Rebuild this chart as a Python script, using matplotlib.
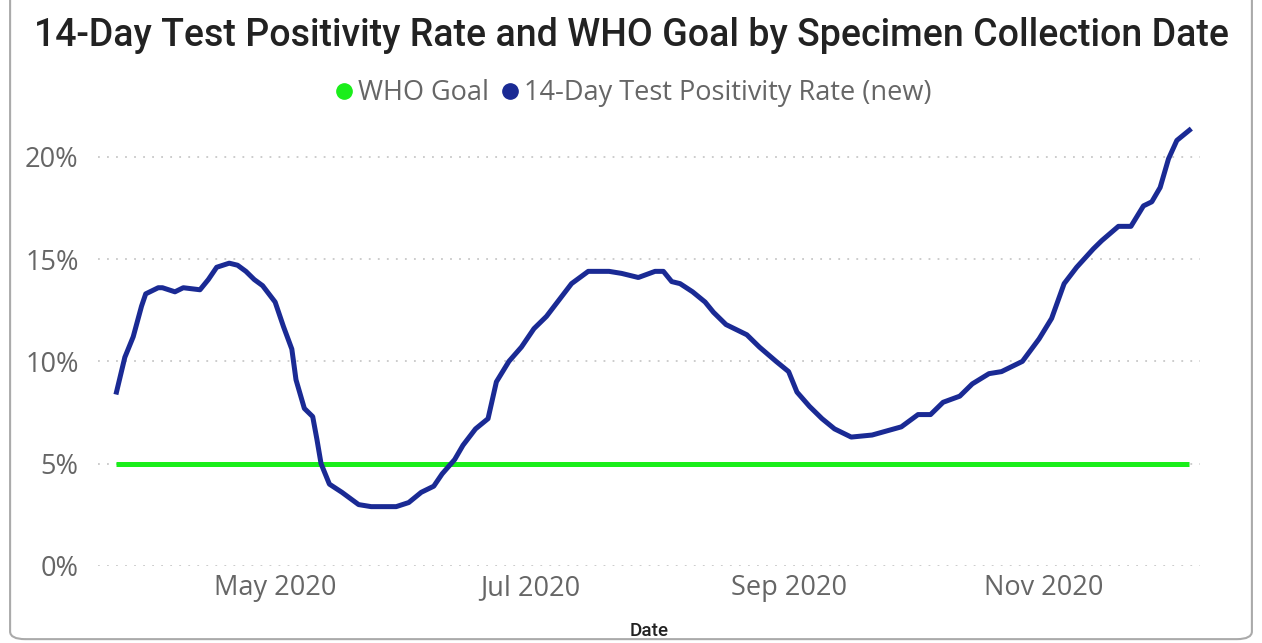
import matplotlib
matplotlib.use("Agg")
import matplotlib.pyplot as plt
import matplotlib.dates as mdates
from matplotlib.patches import FancyBboxPatch
from matplotlib.lines import Line2D
import pandas as pd

# Data
dates = [
    "2020-03-24", "2020-03-26", "2020-03-28", "2020-03-30", "2020-03-31",
    "2020-04-03", "2020-04-04", "2020-04-07", "2020-04-09", "2020-04-13",
    "2020-04-15", "2020-04-17", "2020-04-20", "2020-04-22", "2020-04-24",
    "2020-04-26", "2020-04-28", "2020-05-01", "2020-05-03", "2020-05-05",
    "2020-05-06", "2020-05-08", "2020-05-10", "2020-05-11", "2020-05-12",
    "2020-05-14", "2020-05-17", "2020-05-21", "2020-05-24", "2020-05-27",
    "2020-05-30", "2020-06-02", "2020-06-05", "2020-06-08", "2020-06-10",
    "2020-06-13", "2020-06-15", "2020-06-18", "2020-06-21", "2020-06-23",
    "2020-06-26", "2020-06-29", "2020-07-02", "2020-07-05", "2020-07-08",
    "2020-07-11", "2020-07-15", "2020-07-20", "2020-07-23", "2020-07-27",
    "2020-07-31", "2020-08-02", "2020-08-04", "2020-08-06", "2020-08-09",
    "2020-08-12", "2020-08-14", "2020-08-17", "2020-08-22", "2020-08-25",
    "2020-08-29", "2020-09-01", "2020-09-03", "2020-09-06", "2020-09-09",
    "2020-09-12", "2020-09-16", "2020-09-21", "2020-09-28", "2020-10-02",
    "2020-10-05", "2020-10-08", "2020-10-12", "2020-10-15", "2020-10-19",
    "2020-10-22", "2020-10-27", "2020-10-31", "2020-11-03", "2020-11-06",
    "2020-11-09", "2020-11-13", "2020-11-15", "2020-11-19", "2020-11-22",
    "2020-11-25", "2020-11-27", "2020-11-29", "2020-12-01", "2020-12-03",
    "2020-12-06",
]
positivity = [
    8.5, 10.2, 11.2, 12.7, 13.3,
    13.6, 13.6, 13.4, 13.6, 13.5,
    14.0, 14.6, 14.8, 14.7, 14.4,
    14.0, 13.7, 12.9, 11.7, 10.6,
    9.1, 7.7, 7.3, 6.2, 5.0,
    4.0, 3.6, 3.0, 2.9, 2.9,
    2.9, 3.1, 3.6, 3.9, 4.5,
    5.2, 5.9, 6.7, 7.2, 9.0,
    10.0, 10.7, 11.6, 12.2, 13.0,
    13.8, 14.4, 14.4, 14.3, 14.1,
    14.4, 14.4, 13.9, 13.8, 13.4,
    12.9, 12.4, 11.8, 11.3, 10.7,
    10.0, 9.5, 8.5, 7.8, 7.2,
    6.7, 6.3, 6.4, 6.8, 7.4,
    7.4, 8.0, 8.3, 8.9, 9.4,
    9.5, 10.0, 11.1, 12.1, 13.8,
    14.6, 15.5, 15.9, 16.6, 16.6,
    17.6, 17.8, 18.5, 19.9, 20.8,
    21.3,
]
who_goal = 5.0
y_ticks = [0, 5, 10, 15, 20]
x_ticks = ["2020-05-01", "2020-07-01", "2020-09-01", "2020-11-01"]

dates = pd.to_datetime(dates)
x_ticks = pd.to_datetime(x_ticks)

navy = "#1a2a94"
green = "#1aee1a"
gray = "#666666"

fig = plt.figure(figsize=(12.62, 6.43), dpi=100)
ax = fig.add_axes([0.0777, 0.1198, 0.8733, 0.70])

ax.plot(dates, [who_goal] * len(dates), color=green, lw=3.6, solid_capstyle="butt", zorder=2)
ax.plot(dates, positivity, color=navy, lw=3.6, zorder=3)

ax.set_xlim(pd.Timestamp("2020-03-19 14:00"), pd.Timestamp("2020-12-08 14:00"))
ax.set_ylim(0, 22)
ax.set_yticks(y_ticks)
ax.set_yticklabels([f"{v}%" for v in y_ticks])
ax.set_xticks(x_ticks)
ax.xaxis.set_major_formatter(mdates.DateFormatter("%b %Y"))

for s in ax.spines.values():
    s.set_visible(False)
ax.tick_params(length=0, labelsize=19.5, labelcolor=gray, pad=14)
ax.tick_params(axis="x", pad=6)
for lbl in ax.get_xticklabels() + ax.get_yticklabels():
    lbl.set_fontfamily("Open Sans")
ax.grid(axis="y", color="#c8c8c8", linestyle=(0, (1, 4)), lw=1.3)
ax.set_axisbelow(True)

ax.set_xlabel("Date", fontsize=13.5, color="#222222", labelpad=14, family="Roboto", weight="medium")

fig.text(0.5, 0.945, "14-Day Test Positivity Rate and WHO Goal by Specimen Collection Date",
         ha="center", va="center", fontsize=27, color="#222222", family="Roboto", weight="medium")

handles = [
    Line2D([], [], marker="o", ls="none", color=green, markersize=11),
    Line2D([], [], marker="o", ls="none", color=navy, markersize=11),
]
fig.legend(handles, ["WHO Goal", "14-Day Test Positivity Rate (new)"],
           loc="center", bbox_to_anchor=(0.5, 0.855), ncol=2, frameon=False,
           handletextpad=0.0, columnspacing=0.3, handlelength=1.0,
           prop={"family": "Open Sans", "size": 19.5}, labelcolor=gray)

border = FancyBboxPatch((0.008, 0.006), 0.984, 1.1, boxstyle="round,pad=0,rounding_size=0.012",
                        transform=fig.transFigure, fill=False, ec="#aaaaaa", lw=1.5)
fig.patches.append(border)

fig.savefig("out.png", dpi=100)
